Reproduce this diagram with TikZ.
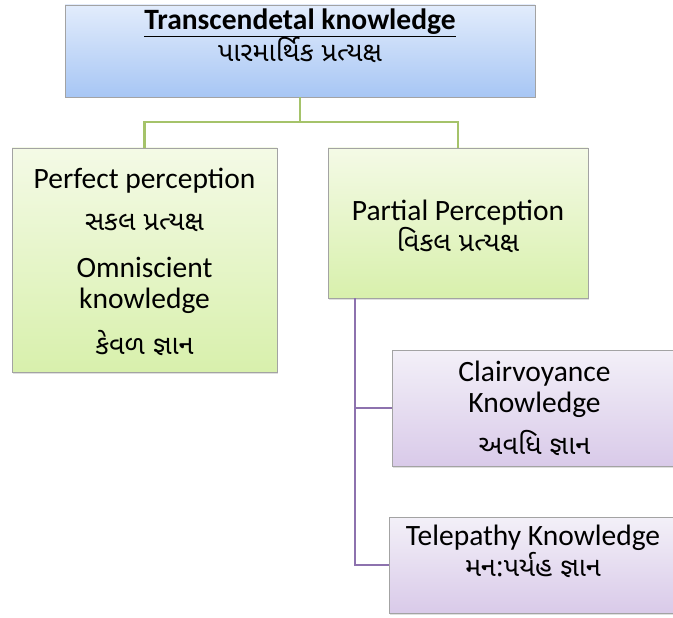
\documentclass[tikz,border=0pt]{standalone}
\usepackage{fontspec}
\setmainfont{Carlito}
\newfontfamily\gujfont[Script=Gujarati]{Noto Sans Gujarati UI}
\usetikzlibrary{shadows}
\definecolor{bluetop}{HTML}{E2ECFC}
\definecolor{bluebot}{HTML}{A7C6F4}
\definecolor{greentop}{HTML}{F4FAE6}
\definecolor{greenbot}{HTML}{D8F0AC}
\definecolor{purptop}{HTML}{F3F0F8}
\definecolor{purpbot}{HTML}{D9CAE9}
\definecolor{boxedge}{HTML}{A3A3A3}
\definecolor{greenline}{HTML}{A5C36A}
\definecolor{purpline}{HTML}{8D72AE}
\newcommand{\guj}[1]{{\fontsize{27}{31}\gujfont #1}}
\tikzset{
  box/.style={draw=boxedge,line width=0.8pt,rectangle,inner sep=0pt,
    drop shadow={opacity=0.25,shadow xshift=1pt,shadow yshift=-1.5pt}},
  bluebox/.style={box,top color=bluetop,bottom color=bluebot},
  greenbox/.style={box,top color=greentop,bottom color=greenbot},
  purpbox/.style={box,top color=purptop,bottom color=purpbot},
  txt/.style={align=center,font=\fontsize{29.5}{31}\selectfont,inner sep=0pt},
  gj/.style={line width=2.8pt,draw=greenline},
  pj/.style={line width=2.8pt,draw=purpline}
}
\begin{document}
\begin{tikzpicture}[x=1pt,y=-1pt]
\useasboundingbox (0,0) rectangle (673,618);
\node[bluebox,minimum width=470pt,minimum height=92pt] (top) at (300,51) {};
\node[greenbox,minimum width=265pt,minimum height=224pt] (left) at (144.5,260) {};
\node[greenbox,minimum width=260pt,minimum height=150pt] (right) at (458,223) {};
\node[purpbox,minimum width=285pt,minimum height=116pt] (clair) at (534.5,408) {};
\node[purpbox,minimum width=288pt,minimum height=96pt] (tele) at (533,565) {};
\node[txt] (toptext) at (300,36) {\textbf{\underline{Transcendetal knowledge}}\\\guj{પારમાર્થિક પ્રત્યક્ષ}};
\node[txt] (lefttext) at (144.5,262) {Perfect perception\\[11pt]\guj{સકલ પ્રત્યક્ષ}\\[16pt]Omniscient\\knowledge\\[15pt]\guj{કેવળ જ્ઞાન}};
\node[txt] (righttext) at (458,226) {Partial Perception\\\guj{વિકલ પ્રત્યક્ષ}};
\node[txt] (clairtext) at (534.5,408) {Clairvoyance\\Knowledge\\[11pt]\guj{અવધિ જ્ઞાન}};
\node[txt] (teletext) at (533,551) {Telepathy Knowledge\\\guj{મન:પર્યહ જ્ઞાન}};
\coordinate (fork) at (300,122);
\coordinate (spine) at (355,298);
\draw[gj] (top.south) -- (fork) -| (left.north);
\draw[gj] (fork) -| (right.north);
\draw[pj] (spine) |- (clair.west);
\draw[pj] (spine) |- (tele.west);
\end{tikzpicture}
\end{document}
